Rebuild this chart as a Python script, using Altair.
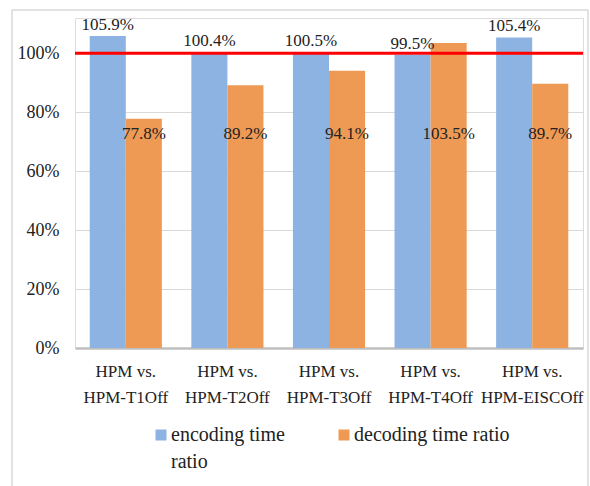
import altair as alt
import pandas as pd

categories = ["HPM vs. HPM-T1Off", "HPM vs. HPM-T2Off", "HPM vs. HPM-T3Off",
              "HPM vs. HPM-T4Off", "HPM vs. HPM-EISCOff"]
series_names = ["encoding time ratio", "decoding time ratio"]
encoding_ratio = [1.059, 1.004, 1.005, 0.995, 1.054]
decoding_ratio = [0.778, 0.892, 0.941, 1.035, 0.897]
y_ticks = [0, 0.2, 0.4, 0.6, 0.8, 1.0]
reference_level = 1.0

rows = []
for c, e, d in zip(categories, encoding_ratio, decoding_ratio):
    rows.append({"cat": c, "series": series_names[0], "value": e})
    rows.append({"cat": c, "series": series_names[1], "value": d})
df = pd.DataFrame(rows)

FONT = "Liberation Serif"
BLUE = "#8DB3E2"
ORANGE = "#EE9A55"

x_enc = alt.X("cat:N", sort=categories, title=None,
              scale=alt.Scale(paddingInner=0.29, paddingOuter=0.145),
              axis=alt.Axis(labelExpr="[slice(datum.label, 0, 7), slice(datum.label, 8)]",
                            labelAngle=0, labelFont=FONT, labelFontSize=17,
                            labelColor="#222222", labelLineHeight=26,
                            labelBaseline="top", labelPadding=15,
                            ticks=False, domainColor="#BFBFBF", domainWidth=2.5,
                            grid=False))
y_scale = alt.Scale(domain=[0, 1.12], nice=False)
xoff = alt.XOffset("series:N", sort=series_names,
                   scale=alt.Scale(paddingInner=0, paddingOuter=0))

base = alt.Chart(df)

bars = base.mark_bar().encode(
    x=x_enc,
    xOffset=xoff,
    y=alt.Y("value:Q", scale=y_scale, title=None,
            axis=alt.Axis(values=y_ticks, format="%",
                          labelFont=FONT, labelFontSize=18, labelColor="#222222",
                          labelPadding=16, ticks=False, domain=False,
                          gridColor="#D9D9D9", gridWidth=1)),
    color=alt.Color("series:N", sort=series_names,
                    scale=alt.Scale(domain=series_names, range=[BLUE, ORANGE]),
                    legend=alt.Legend(title=None, orient="none", direction="horizontal",
                                      legendX=76, legendY=407,
                                      symbolType="square", symbolSize=121,
                                      symbolStrokeWidth=0, symbolOpacity=1,
                                      labelFont=FONT, labelFontSize=20,
                                      labelColor="#222222", labelBaseline="middle",
                                      labelOffset=0,
                                      labelExpr="datum.label == 'encoding time ratio' ? ['encoding time', 'ratio'] : [datum.label, '']",
                                      columnPadding=49, padding=0)),
)

enc_labels = base.transform_filter(
    alt.datum.series == series_names[0]
).mark_text(font=FONT, fontSize=17, baseline="bottom", dy=-2, color="#222222").encode(
    x=alt.X("cat:N", sort=categories),
    xOffset=xoff,
    y=alt.Y("value:Q", scale=y_scale),
    text=alt.Text("value:Q", format=".1%"),
)

dec_labels = base.transform_filter(
    alt.datum.series == series_names[1]
).mark_text(font=FONT, fontSize=17, baseline="middle", color="#222222").encode(
    x=alt.X("cat:N", sort=categories),
    xOffset=xoff,
    y=alt.datum(0.725),
    text=alt.Text("value:Q", format=".1%"),
)

ref_line = alt.Chart(pd.DataFrame({"level": [reference_level]})).mark_rule(
    color="#FF0000", strokeWidth=3
).encode(y=alt.Y("level:Q", scale=y_scale))

border = alt.Chart(pd.DataFrame({"k": [0]})).mark_rect(
    fillOpacity=0, stroke="#D9D9D9", strokeWidth=1.5
).encode(x=alt.value(-63), x2=alt.value(513), y=alt.value(-8), y2=alt.value(480))

chart = alt.layer(border, bars, enc_labels, dec_labels, ref_line).properties(
    width=508, height=330,
    padding={"left": 75, "top": 18, "right": 7, "bottom": 138},
    autosize=alt.AutoSizeParams(type="none"),
).configure_view(stroke=None).configure(
    background="white", font=FONT,
    style={"guide-label": {"lineHeight": 27}},
).configure_axis(
    labelFont=FONT, labelColor="#222222"
).configure_axisY(
    labelFont=FONT, labelFontSize=18
).configure_legend(
    labelFont=FONT, labelFontSize=20
)

chart.save("out.html", embed_options={"renderer": "svg", "actions": False})
